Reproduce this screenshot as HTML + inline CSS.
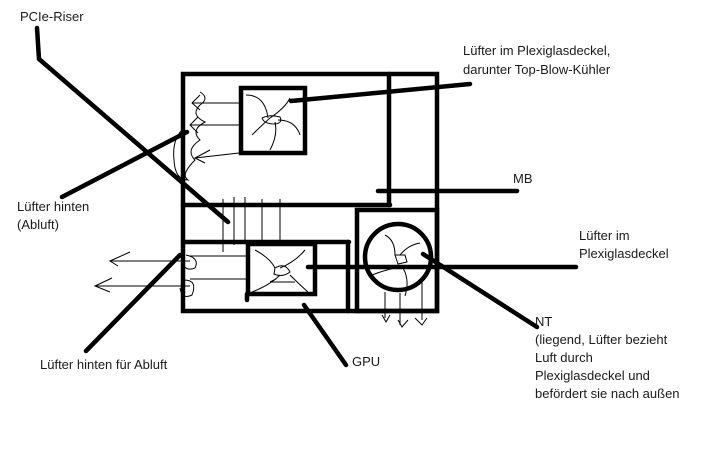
<!DOCTYPE html>
<html><head><meta charset="utf-8"><style>
html,body{margin:0;padding:0;background:#fff;width:719px;height:469px;overflow:hidden}
svg{display:block}
text{font-family:"Liberation Sans",sans-serif;font-size:13px;fill:#1a1a1a}
</style></head><body>
<svg width="719" height="469" viewBox="0 0 719 469">
<g stroke="#000" stroke-width="4.5" fill="none" stroke-linecap="round">
<rect x="183" y="74" width="254" height="237"/>
<line x1="389" y1="74" x2="389" y2="205"/>
<line x1="183" y1="205" x2="390" y2="205"/>
<rect x="357" y="210" width="80" height="101"/>
<line x1="183" y1="242" x2="349" y2="242"/>
<line x1="348" y1="242" x2="348" y2="311"/>
<rect x="241" y="88" width="64" height="65"/>
<rect x="248" y="244" width="67" height="50"/>
<line x1="247" y1="294" x2="247" y2="300"/>
<circle cx="398" cy="257" r="33"/>
<line x1="291" y1="101" x2="470" y2="84"/>
<line x1="378" y1="191" x2="517" y2="191"/>
<line x1="308" y1="267" x2="576" y2="267"/>
<line x1="423" y1="254" x2="537" y2="327"/>
<line x1="304" y1="305" x2="346" y2="365"/>
<polyline points="37,28 39,59 228,222"/>
<line x1="187" y1="132" x2="62" y2="197"/>
<line x1="180" y1="255" x2="86" y2="351"/>
</g>
<g stroke="#000" stroke-width="1" fill="none">
<path d="M246 95 Q265 95 268 118 M290 98 Q285 108 270 118 M270 118 Q262 125 252 135 M278 120 Q295 120 300 135 M275 122 Q278 135 270 150 M262 118 Q270 114 280 117 Q283 123 275 124 Q264 124 262 118"/>
<path d="M239 103 H192 M200 95 L192 103 L200 110 M239 125 H190 M198 117 L190 125 L198 133 M239 153 L195 158 M210 150 L195 158 L205 163"/>
<path d="M200 92 Q210 98 200 105 Q190 115 205 122 Q190 130 200 140 Q185 150 195 160 Q180 175 188 180 Q175 180 174 160 Q172 140 182 130"/>
<path d="M223 199 V252 M234 197 V245 M245 197 V242 M262 199 V242 M280 199 V242"/>
<path d="M255 250 Q270 258 275 268 M305 250 Q295 262 280 268 M275 268 Q285 262 290 272 Q282 278 274 274 Z M280 275 Q270 285 252 292 M290 275 Q300 285 308 292 M270 282 H295 M270 282 L276 279"/>
<path d="M246 256 H190 M246 279 H190 M190 261 H110 M130 252 L110 261 L118 266 M190 286 H95 M112 278 L95 286 L110 292"/>
<path d="M186 255 Q200 258 195 268 Q185 272 182 262 M184 280 Q198 280 192 295 Q182 300 180 288"/>
<path d="M385 235 Q395 240 395 255 M420 243 Q408 245 400 255 M395 255 H405 L407 262 L398 264 Z M372 275 Q385 270 395 268 M403 268 Q410 280 405 296 M385 292 V318 M400 293 V325 M422 282 V320 M382 315 L386 322 L390 315 M398 320 L402 327 L408 320 M415 318 L422 325 L427 318"/>
</g>
<text x="20" y="21">PCIe-Riser</text>
<text x="463" y="55">Lüfter im Plexiglasdeckel,</text>
<text x="463" y="74">darunter Top-Blow-Kühler</text>
<text x="513" y="183">MB</text>
<text x="17" y="211">Lüfter hinten</text>
<text x="17" y="229">(Abluft)</text>
<text x="579" y="240">Lüfter im</text>
<text x="579" y="258">Plexiglasdeckel</text>
<text x="535" y="326">NT</text>
<text x="535" y="344">(liegend, Lüfter bezieht</text>
<text x="535" y="362">Luft durch</text>
<text x="535" y="380">Plexiglasdeckel und</text>
<text x="535" y="398">befördert sie nach außen</text>
<text x="352" y="366">GPU</text>
<text x="40" y="369">Lüfter hinten für Abluft</text>
</svg>
</body></html>
